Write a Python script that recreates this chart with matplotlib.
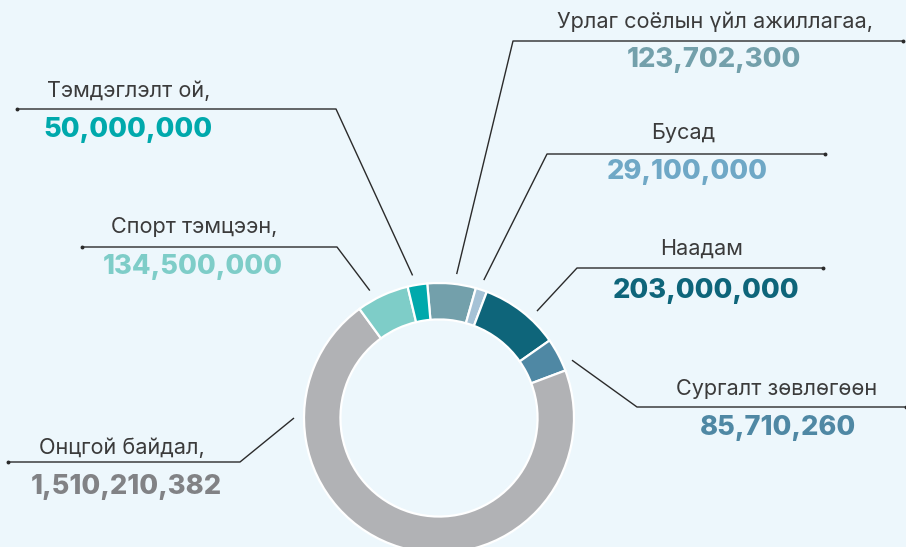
import numpy as np
import matplotlib
matplotlib.use("Agg")
import matplotlib.pyplot as plt

# ---- data (clockwise from the top) ----
categories = ["Урлаг соёлын үйл ажиллагаа,", "Бусад", "Наадам", "Сургалт зөвлөгөөн",
              "Онцгой байдал,", "Спорт тэмцээн,", "Тэмдэглэлт ой,"]
values = [123702300, 29100000, 203000000, 85710260, 1510210382, 134500000, 50000000]
value_labels = ["123,702,300", "29,100,000", "203,000,000", "85,710,260",
                "1,510,210,382", "134,500,000", "50,000,000"]

# ---- styling ----
wedge_colors = ["#73a0ab", "#a5c2d6", "#0e657a", "#4f88a4", "#b1b2b5", "#7ecdc8", "#00a9ac"]
value_colors = ["#73a0ab", "#6fa8c6", "#0e657a", "#4f88a4", "#818285", "#7ecdc8", "#00a9ac"]
BG = "#edf7fc"
W, H = 906, 547

# layout in pixel coordinates (y from top)
# (label_x, label_y, value_x, value_y, line_y, line_x0, line_x1, elbow_x, anchor_angle)
layout = [
    (715, 22, 714, 60, 41, 903, 513, 513, 83),
    (683, 133, 687, 172, 154, 825, 547, 547, 72),
    (702, 249, 706, 291, 268, 823, 577, 577, 47.5),
    (777, 389, 778, 428, 407, 906, 637, 637, 23.5),
    (122, 448, 126, 487, 462, 8, 240, 240, 180),
    (194, 227, 193, 267, 247, 82, 337, 337, 118.5),
    (129, 91, 128, 130, 109, 17, 336, 336, 100.5),
]

plt.rcParams['font.family'] = ['Inter', 'DejaVu Sans']
fig = plt.figure(figsize=(W / 100, H / 100), dpi=100, facecolor=BG)
ax = fig.add_axes([0, 0, 1, 1])
ax.set_facecolor(BG)
ax.set_xlim(0, W)
ax.set_ylim(0, H)
ax.set_aspect('equal')
ax.axis('off')

cx, cy, R = 439, H - 418, 135
ax.pie(values, colors=wedge_colors, startangle=95, counterclock=False,
       center=(cx, cy), radius=R,
       wedgeprops=dict(width=R * 0.27, edgecolor='white', linewidth=1.6))
ax.set_xlim(0, W)
ax.set_ylim(0, H)

for i, (lx, ly, vx, vy, liney, x0, x1, ex, ang) in enumerate(layout):
    ax.text(lx, H - ly, categories[i], ha='center', va='center', fontsize=15.6,
            color='#3b3b3b')
    ax.text(vx, H - vy, value_labels[i], ha='center', va='center', fontsize=19.6,
            fontweight='heavy', color=value_colors[i])
    a = np.deg2rad(ang)
    px, py = cx + 145 * np.cos(a), cy + 145 * np.sin(a)
    ax.plot([x0, ex, px], [H - liney, H - liney, py], color='#2b2b2b', lw=1.0,
            solid_capstyle='butt')
    ax.plot([x0], [H - liney], marker='o', ms=1.8, color='#2b2b2b')

fig.savefig("out.png", dpi=100, facecolor=BG)
